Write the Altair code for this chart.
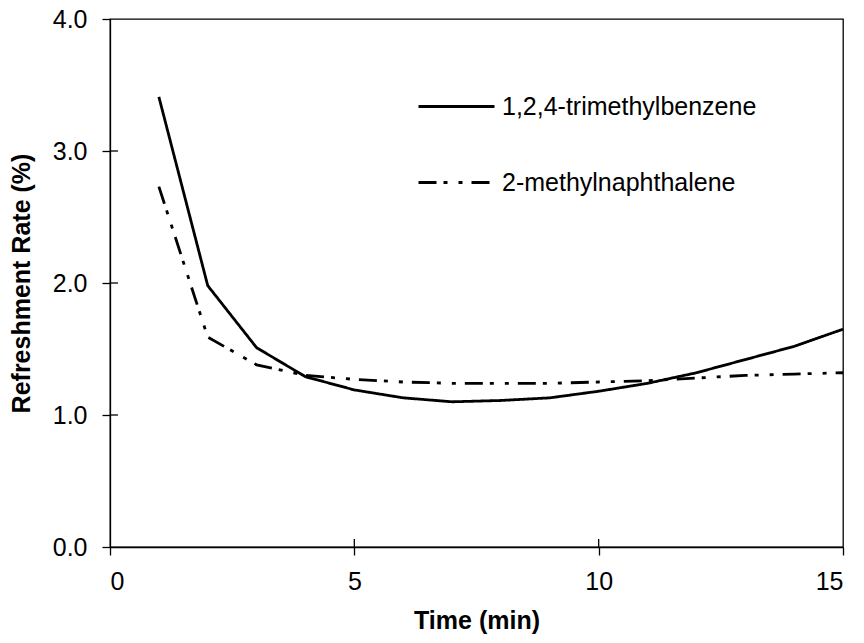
import altair as alt
import pandas as pd

# ---- data ----
time_min = [1, 2, 3, 4, 5, 6, 7, 8, 9, 10, 11, 12, 13, 14, 15]
trimethylbenzene = [3.41, 1.98, 1.51, 1.29, 1.19, 1.13, 1.10, 1.11, 1.13, 1.18, 1.24, 1.32, 1.42, 1.52, 1.65]
methylnaphthalene = [2.73, 1.59, 1.38, 1.30, 1.27, 1.25, 1.24, 1.24, 1.24, 1.25, 1.26, 1.28, 1.30, 1.31, 1.32]
series_names = ["1,2,4-trimethylbenzene", "2-methylnaphthalene"]
x_ticks = [0, 5, 10, 15]
y_ticks = [0, 1, 2, 3, 4]
inner_x_ticks = [5, 10]
inner_y_ticks = [1, 2, 3]

rows = []
for name, vals in zip(series_names, [trimethylbenzene, methylnaphthalene]):
    for t, v in zip(time_min, vals):
        rows.append({"Time": t, "Rate": v, "Series": name})
df = pd.DataFrame(rows)

FONT = "Liberation Sans"
W, H = 733, 528

x_scale = alt.Scale(domain=[0, 15], nice=False, zero=False)
y_scale = alt.Scale(domain=[0, 4], nice=False)

lines = alt.Chart(df).mark_line(strokeWidth=2.8, color="black").encode(
    x=alt.X("Time:Q", scale=x_scale,
            axis=alt.Axis(title="Time (min)", values=x_ticks, format="d")),
    y=alt.Y("Rate:Q", scale=y_scale,
            axis=alt.Axis(title="Refreshment Rate (%)", values=y_ticks, format=".1f")),
    strokeDash=alt.StrokeDash(
        "Series:N",
        scale=alt.Scale(domain=series_names, range=[[1, 0], [18, 7, 4, 11, 4, 9]]),
        legend=alt.Legend(
            title=None, orient="none", legendX=307, legendY=48,
            symbolType="stroke", symbolSize=5776, symbolStrokeWidth=2.8,
            symbolStrokeColor="black", labelFontSize=25, labelFont=FONT,
            labelColor="black", labelOffset=6, rowPadding=23, labelLimit=400,
        ),
    ),
)

inner_y = alt.Chart(pd.DataFrame({"v": inner_y_ticks})).mark_rule(
    color="black", strokeWidth=1.3
).encode(y=alt.Y("v:Q", scale=y_scale), x=alt.value(0), x2=alt.value(8))

inner_x = alt.Chart(pd.DataFrame({"v": inner_x_ticks})).mark_rule(
    color="black", strokeWidth=1.3
).encode(x=alt.X("v:Q", scale=x_scale), y=alt.value(H), y2=alt.value(H - 8))

chart = alt.layer(lines, inner_y, inner_x).properties(
    width=W, height=H, autosize="none",
    padding={"left": 110, "top": 19, "right": 21, "bottom": 96},
).configure_view(
    stroke="black", strokeWidth=1.3
).configure_axis(
    grid=False, domainColor="black", domainWidth=1.3, tickColor="black",
    tickWidth=1.3, tickSize=8, labelFont=FONT, labelFontSize=25,
    labelColor="black", labelPadding=15, titleFont=FONT, titleFontSize=25,
    titleFontWeight="bold", titleColor="black",
).configure_axisX(
    titlePadding=14, labelPadding=14,
).configure_axisY(
    titlePadding=18,
)

chart.save("out.html", embed_options={"renderer": "svg", "actions": False})
